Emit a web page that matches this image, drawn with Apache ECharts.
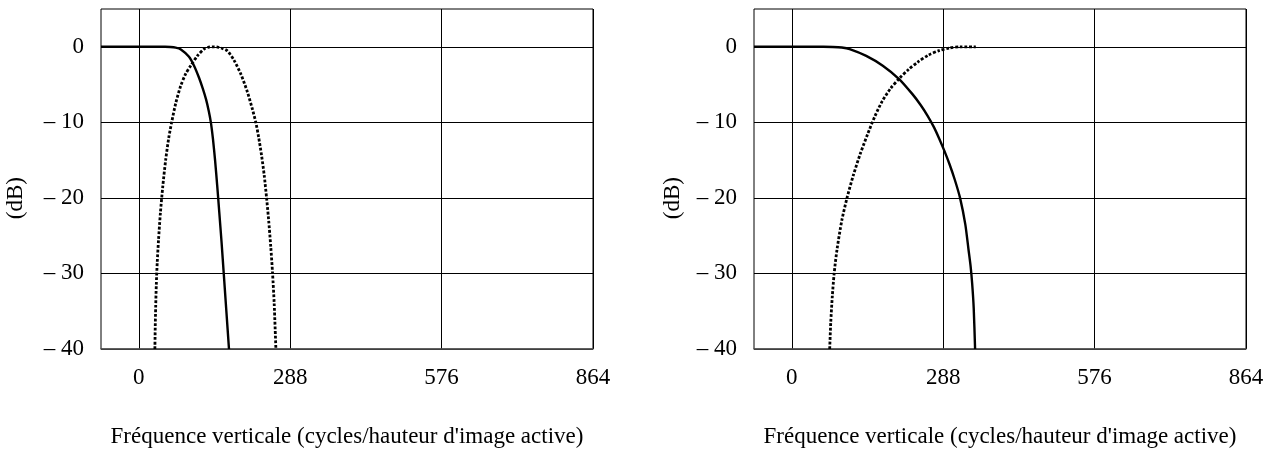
<!DOCTYPE html>
<html>
<head>
<meta charset="utf-8">
<script src="https://cdn.jsdelivr.net/npm/echarts@6/dist/echarts.min.js"></script>
<style>
  html, body { margin: 0; padding: 0; background: #fff; }
  #chart { width: 1274px; height: 454px; }
</style>
</head>
<body>
<div id="chart"></div>
<script>
// axis ticks
var xTicks = [0, 288, 576, 864];
var yTicks = [-40, -30, -20, -10, 0];
var xTitle = "Fréquence verticale (cycles/hauteur d'image active)";
var yTitle = "(dB)";

// panneau gauche : passe-bas (trait plein) et passe-bande (pointillé)
var leftLowpass = [
  [-72, 0], [0, 0], [50, 0], [60, -0.03], [70, -0.12], [80, -0.35], [95, -1.3],
  [105, -2.5], [114.5, -4.1], [122, -5.6], [128, -7], [133, -8.5], [137, -10],
  [141, -12.2], [145, -15], [149, -18.3], [153, -21.9], [157.5, -26],
  [161.5, -30], [166.5, -35], [171.5, -40]
];
var leftBandpass = [
  [30.5, -40], [31.2, -37], [32, -34.5], [33.2, -31.5], [35, -28.5], [37.5, -25.5],
  [41, -22], [45.5, -18.5], [51, -15], [57, -12], [62.4, -10], [70.4, -7.4],
  [79.5, -5.2], [89, -3.6], [98.6, -2.5], [111.4, -1.2], [124, -0.3], [133, -0.05],
  [143, 0], [150, -0.05], [158, -0.2], [168.6, -0.55], [181.2, -1.8], [194, -3.6],
  [206.6, -6], [216.2, -8.3], [222.5, -10], [228, -12], [233.5, -14.4],
  [238.5, -17], [243, -20], [247, -23], [251, -26.5], [254.4, -30],
  [257.5, -34], [260.7, -40]
];

// panneau droit : passe-bas (trait plein) et passe-haut (pointillé)
var rightLowpass = [
  [-72, 0], [0, 0], [60, 0], [78, -0.02], [95, -0.1], [110, -0.3], [141.5, -1.2],
  [173, -2.5], [204.6, -4.3], [229.8, -6.3], [245, -7.7], [258, -9.1],
  [270, -10.6], [280, -12.1], [290, -13.75], [300, -15.55], [310, -17.6],
  [320, -20], [330, -23.5], [336, -26.8], [340, -29], [343, -31.3],
  [346, -34.6], [348.6, -40]
];
var rightHighpass = [
  [72, -40], [74, -36.5], [77, -33], [80.5, -30], [86, -26.8], [95, -23],
  [105, -20], [117, -17], [130, -14.2], [144, -11.6], [158, -9.2], [172, -7.2],
  [188, -5.5], [205, -4.15], [222, -3], [240, -2], [260, -1.1], [280, -0.5],
  [300, -0.15], [320, 0], [350, 0]
];

var font = "'Liberation Serif', 'Times New Roman', serif";

var chart = echarts.init(document.getElementById("chart"));

function xAxisOpt(gridIndex) {
  return {
    type: "value",
    gridIndex: gridIndex,
    min: -72,
    max: 864,
    name: xTitle,
    nameLocation: "middle",
    nameGap: 76,
    nameTextStyle: { color: "#000", fontFamily: font, fontSize: 23 },
    axisLine: { show: true, onZero: false, lineStyle: { color: "#555", width: 1.5 } },
    axisTick: { show: false, customValues: xTicks },
    axisLabel: { customValues: xTicks, color: "#000", fontFamily: font, fontSize: 23, margin: 17 },
    splitLine: { show: true, lineStyle: { color: "#000", width: 1 } }
  };
}

function yAxisOpt(gridIndex) {
  return {
    type: "value",
    gridIndex: gridIndex,
    min: -40,
    max: 5,
    axisLine: { show: false },
    axisTick: { show: false, customValues: yTicks },
    axisLabel: {
      customValues: yTicks,
      color: "#000",
      fontFamily: font,
      fontSize: 23,
      margin: 17,
      formatter: function (v) {
        return v < 0 ? "\u2013 " + (-v) : String(v);
      }
    },
    splitLine: { show: true, lineStyle: { color: "#000", width: 1 } }
  };
}

function curve(data, idx, dotted) {
  return {
    type: "line",
    xAxisIndex: idx,
    yAxisIndex: idx,
    data: data,
    smooth: 0.25,
    showSymbol: false,
    symbol: "none",
    silent: true,
    lineStyle: {
      color: "#000",
      width: dotted ? 2.8 : 2.4,
      type: dotted ? [2.8, 1.8] : "solid"
    }
  };
}

var option = {
  backgroundColor: "#fff",
  animation: false,
  grid: [
    { left: 101, right: 681, top: 9, bottom: 105, show: true, borderColor: "#000", borderWidth: 1 },
    { left: 754, right: 28, top: 9, bottom: 105, show: true, borderColor: "#000", borderWidth: 1 }
  ],
  xAxis: [xAxisOpt(0), xAxisOpt(1)],
  yAxis: [yAxisOpt(0), yAxisOpt(1)],
  graphic: [
    {
      type: "text", left: 4, top: 177, rotation: Math.PI / 2,
      style: { text: yTitle, fill: "#000", font: "23px " + font }
    },
    {
      type: "text", left: 661, top: 177, rotation: Math.PI / 2,
      style: { text: yTitle, fill: "#000", font: "23px " + font }
    }
  ],
  series: [
    curve(leftLowpass, 0, false),
    curve(leftBandpass, 0, true),
    curve(rightLowpass, 1, false),
    curve(rightHighpass, 1, true)
  ]
};

chart.setOption(option);
</script>
</body>
</html>
